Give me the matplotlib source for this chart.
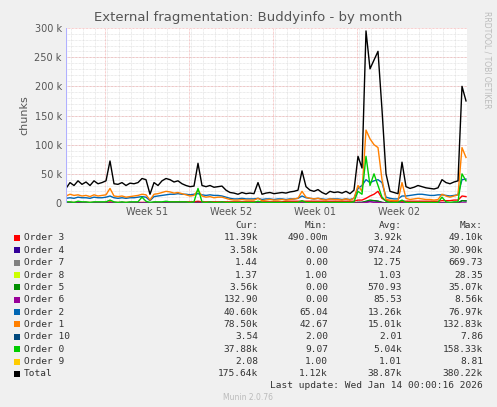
import matplotlib
matplotlib.use("Agg")
import matplotlib.pyplot as plt
import numpy as np

# time in days from start, one point every ~4 px (~0.333 day)
total = [25,35,30,38,32,36,30,38,33,35,38,72,33,32,35,30,34,33,35,42,40,15,35,30,38,42,40,36,38,33,
         30,28,29,68,30,28,30,27,28,29,22,18,17,15,18,16,17,16,35,15,17,18,16,17,18,17,19,20,22,55,
         28,22,20,23,18,15,20,18,19,17,20,16,22,80,60,295,230,245,260,160,50,20,18,16,70,28,25,27,30,28,
         26,25,24,26,40,35,33,36,38,200,175]
order1 = [12,15,13,14,12,13,11,14,12,13,14,25,12,11,12,10,11,12,13,15,14,5,15,16,18,20,19,17,18,16,
          14,12,13,22,12,10,11,9,10,10,8,6,5,5,6,5,5,5,8,4,5,6,5,5,6,5,6,7,8,20,
          10,8,7,8,6,5,7,6,6,5,7,5,8,30,20,125,110,100,95,40,6,5,4,4,35,8,6,7,8,7,
          6,6,5,6,15,12,10,12,14,95,78]
order2 = [8,9,8,10,9,9,8,10,9,9,10,12,9,8,9,8,9,9,10,11,10,4,11,12,13,14,15,15,16,15,
          15,14,15,16,14,13,14,13,13,12,10,8,7,7,8,7,7,7,8,6,7,7,6,7,7,6,7,7,8,12,
          9,8,7,8,7,6,7,7,7,6,7,6,8,25,30,40,35,38,40,35,10,8,7,7,12,12,13,14,15,15,
          14,13,13,14,14,13,12,13,14,40,41]
order0 = [2,2,1,3,2,2,1,2,2,2,2,5,2,1,2,1,2,2,2,10,3,1,2,2,2,3,2,2,2,2,
          2,1,2,25,2,1,2,1,1,2,1,1,1,1,1,1,1,1,3,1,1,1,1,1,1,1,1,1,1,4,
          1,1,1,1,1,1,1,1,1,1,1,1,2,20,15,80,30,50,30,10,3,1,1,1,5,1,1,1,1,1,
          1,1,1,1,10,2,1,2,2,50,38]
order3 = [1,1,1,1,1,1,1,1,1,1,1,2,1,1,1,1,1,1,1,1,1,0.5,1,1,1,2,2,2,2,2,
          2,2,2,3,2,2,2,2,2,2,2,2,2,2,2,2,2,2,2,2,2,2,2,2,2,3,3,3,3,3,
          3,3,3,3,3,3,3,3,3,3,3,3,3,5,5,8,12,15,20,8,4,3,3,3,3,3,3,3,3,3,
          3,3,3,3,4,4,4,5,5,12,11]
order4 = [0,0,0,0,0,0,0,0,0,0,0,0,0,0,0,0,0,0,0,0,0,0,0,0,0,0,0,0,0,0,
          0,0,0,1,0,0,0,0,0,0,0,0,0,0,0,0,0,0,0,0,0,0,0,0,0,0,0,0,0,0,
          0,0,0,0,0,0,0,0,0,0,0,0,0,1,1,2,3,4,3,1,0,0,0,0,0,0,0,0,0,0,
          0,0,0,0,0,0,0,0,0,4,3.6]
order5 = [0,0,0,0,0,0,0,0,0,0,0,0,0,0,0,0,0,0,0,0,0,0,0,0,0,0,0,0,0,0,
          0,0,0,1,0,0,0,0,0,0,0,0,0,0,0,0,0,0,0,0,0,0,0,0,0,0,0,0,0,0,
          0,0,0,0,0,0,0,0,0,0,0,0,0,1,1,3,5,4,3,1,0,0,0,0,0,0,0,0,0,0,
          0,0,0,0,0,0,0,0,0,4,3.6]
order6 = [0,0,0,0,0,0,0,0,0,0,0,0,0,0,0,0,0,0,0,0,0,0,0,0,0,0,0,0,0,0,
          0,0,0,0,0,0,0,0,0,0,0,0,0,0,0,0,0,0,0,0,0,0,0,0,0,0,0,0,0,0,
          0,0,0,0,0,0,0,0,0,0,0,0,0,0,0,1,2,1,1,0,0,0,0,0,0,0,0,0,0,0,
          0,0,0,0,0,0,0,0,0,0.2,0.13]
small = {"Order 7": "#808080", "Order 8": "#CCFF00", "Order 10": "#00487D", "Order 9": "#FFCC00"}

names = ["Order 3","Order 4","Order 7","Order 8","Order 5","Order 6","Order 2","Order 1","Order 10","Order 0","Order 9","Total"]
colors = ["#FF0000","#330099","#808080","#CCFF00","#008F00","#990099","#0066B3","#FF8000","#00487D","#00CC00","#FFCC00","#000000"]
cur = ["11.39k","3.58k","1.44","1.37","3.56k","132.90","40.60k","78.50k","3.54","37.88k","2.08","175.64k"]
mins = ["490.00m","0.00","0.00","1.00","0.00","0.00","65.04","42.67","2.00","9.07","1.00","1.12k"]
avgs = ["3.92k","974.24","12.75","1.03","570.93","85.53","13.26k","15.01k","2.01","5.04k","1.01","38.87k"]
maxs = ["49.10k","30.90k","669.73","28.35","35.07k","8.56k","76.97k","132.83k","7.86","158.33k","8.81","380.22k"]

n = len(total)
step = 4 / 84 * 7  # days per point
t = np.arange(n) * step

fig = plt.figure(figsize=(4.97, 4.07), dpi=100, facecolor="#F0F0F0")
W, H = 497, 407
ax = fig.add_axes([66/W, 1-203/H, (467-66)/W, (203-28)/H])
ax.set_facecolor("white")
xmax = (467-66)/84*7
ax.set_xlim(0, xmax)
ax.set_ylim(0, 300)

# grid
for y in range(10, 300, 10):
    ax.axhline(y, color="#D8D8D8", lw=0.5, ls=(0, (1, 1)), zorder=0)
for y in range(50, 301, 50):
    ax.axhline(y, color="#F0A0A0", lw=0.5, ls=(0, (1, 1)), zorder=0)
for d in np.arange(0.4, xmax, 1.0):
    ax.axvline(d, color="#D8D8D8", lw=0.5, ls=(0, (1, 1)), zorder=0)
wk = [(147-66)/84*7 - 3.5 + 7*k for k in range(4)]
for d in wk:
    ax.axvline(d, color="#F0A0A0", lw=0.5, ls=(0, (1, 1)), zorder=0)

series = {"Order 3": order3, "Order 4": order4, "Order 5": order5, "Order 6": order6,
          "Order 2": order2, "Order 1": order1, "Order 0": order0, "Total": total}
for nm, c in zip(names, colors):
    if nm in series:
        ax.plot(t, series[nm], color=c, lw=1.0 if nm != "Total" else 1.0)

ax.set_yticks([0, 50, 100, 150, 200, 250, 300])
ax.set_yticklabels(["0", "50 k", "100 k", "150 k", "200 k", "250 k", "300 k"])
ax.set_xticks([(147-66)/84*7 + 7*k for k in range(4)])
ax.set_xticklabels(["Week 51", "Week 52", "Week 01", "Week 02"])
ax.tick_params(labelsize=7, colors="#555555", length=0, pad=3)
for s in ax.spines.values():
    s.set_visible(False)
ax.set_ylabel("chunks", fontsize=8, color="#555555")
ax.axhline(0, color="#B0B0FF", lw=0.8)
ax.axvline(0, color="#B0B0FF", lw=0.8)

fig.text(248/W, 1-18/H, "External fragmentation: Buddyinfo - by month", ha="center", va="center",
         fontsize=9.5, color="#555555")
fig.text(487/W, 1-60/H, "RRDTOOL / TOBI OETIKER", rotation=270, ha="center", va="center",
         fontsize=5.5, color="#BBBBBB")

mono = "DejaVu Sans Mono"
fs = 6.8
tc = "#333333"
hy = 225
fig.text(258/W, 1-hy/H, "Cur:", ha="right", va="center", family=mono, fontsize=fs, color=tc)
fig.text(328/W, 1-hy/H, "Min:", ha="right", va="center", family=mono, fontsize=fs, color=tc)
fig.text(402/W, 1-hy/H, "Avg:", ha="right", va="center", family=mono, fontsize=fs, color=tc)
fig.text(483/W, 1-hy/H, "Max:", ha="right", va="center", family=mono, fontsize=fs, color=tc)
for i, nm in enumerate(names):
    y = 1 - (238 + i*12.35)/H
    fig.patches.append(plt.Rectangle((14/W, y-3/H), 6/W, 6/H, transform=fig.transFigure,
                                     facecolor=colors[i], edgecolor="none"))
    fig.text(24/W, y, nm, ha="left", va="center", family=mono, fontsize=fs, color=tc)
    fig.text(258/W, y, cur[i], ha="right", va="center", family=mono, fontsize=fs, color=tc)
    fig.text(328/W, y, mins[i], ha="right", va="center", family=mono, fontsize=fs, color=tc)
    fig.text(402/W, y, avgs[i], ha="right", va="center", family=mono, fontsize=fs, color=tc)
    fig.text(483/W, y, maxs[i], ha="right", va="center", family=mono, fontsize=fs, color=tc)
fig.text(483/W, 1-385/H, "Last update: Wed Jan 14 00:00:16 2026", ha="right", va="center",
         family=mono, fontsize=fs, color=tc)
fig.text(248/W, 1-397/H, "Munin 2.0.76", ha="center", va="center", fontsize=5.5, color="#BBBBBB")

fig.savefig("out.png", dpi=100, facecolor=fig.get_facecolor())
